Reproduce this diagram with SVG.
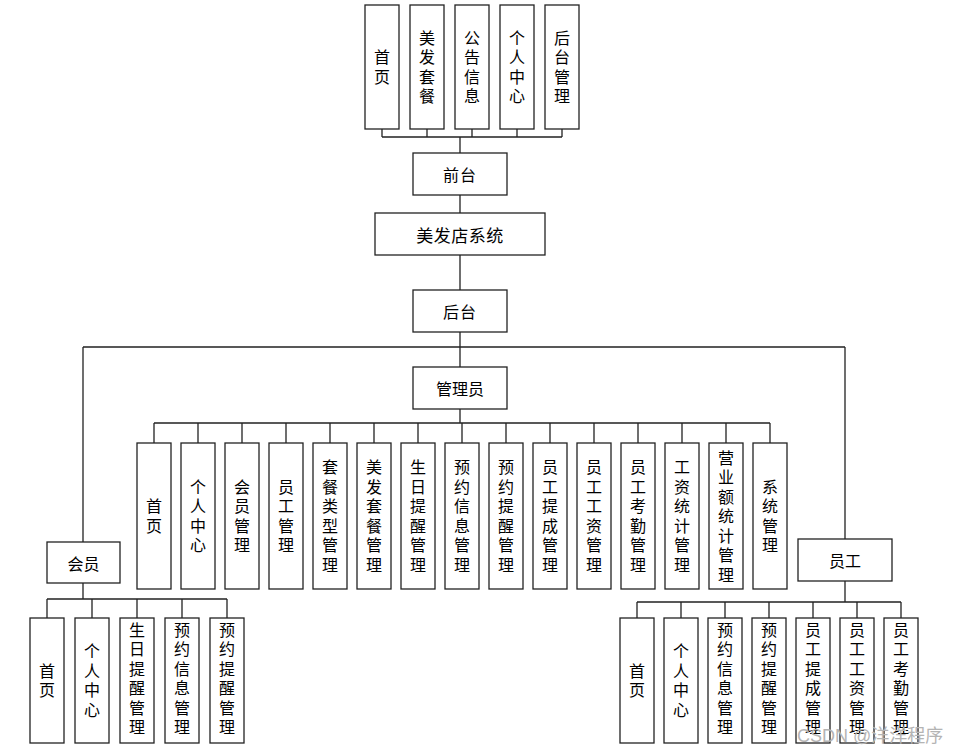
<svg xmlns="http://www.w3.org/2000/svg" width="953" height="754" viewBox="0 0 953 754">
<style>
.box{fill:#fff;stroke:#222;stroke-width:1.3}
.t{font-family:"Noto Sans CJK SC","Noto Sans",sans-serif;font-size:16px;fill:#000;dominant-baseline:central;text-anchor:middle}
.v{font-family:"Noto Sans CJK SC","Noto Sans",sans-serif;font-size:16px;fill:#000;writing-mode:vertical-rl;text-anchor:middle;letter-spacing:3.5px}
.ln{stroke:#222;stroke-width:1.3;fill:none}
.wm{font-family:"Liberation Sans","Noto Sans CJK SC",sans-serif;font-size:18px;fill:#b4b4b4}
</style>
<rect width="953" height="754" fill="#fff"/>
<g id="connectors">
<path class="ln" d="M382 129V137M427 129V137M472 129V137M517 129V137M562 129V137M382 137H562M460 137V153"/>
<path class="ln" d="M460 195V213M460 255V290M460 332V367M83 347H845M83 347V542M845 347V539"/>
<path class="ln" d="M460 409V423M154 423H770M154 423V443M198 423V443M242 423V443M286 423V443M330 423V443M374 423V443M418 423V443M462 423V443M506 423V443M550 423V443M594 423V443M638 423V443M682 423V443M726 423V443M770 423V443"/>
<path class="ln" d="M83 583V599M47 599H227M47 599V618M92 599V618M137 599V618M182 599V618M227 599V618"/>
<path class="ln" d="M845 581V602M637 602H901M637 602V618M681 602V618M725 602V618M769 602V618M813 602V618M857 602V618M901 602V618"/>
</g>
<g id="top-shouye"><rect class="box" x="365" y="5" width="34" height="124"/><text class="v" x="382" y="68.75">首页</text></g>
<g id="top-meifataocan"><rect class="box" x="410" y="5" width="34" height="124"/><text class="v" x="427" y="68.75">美发套餐</text></g>
<g id="top-gonggao"><rect class="box" x="455" y="5" width="34" height="124"/><text class="v" x="472" y="68.75">公告信息</text></g>
<g id="top-gerenzhongxin"><rect class="box" x="500" y="5" width="34" height="124"/><text class="v" x="517" y="68.75">个人中心</text></g>
<g id="top-houtaiguanli"><rect class="box" x="545" y="5" width="34" height="124"/><text class="v" x="562" y="68.75">后台管理</text></g>
<g id="qiantai"><rect class="box" x="413" y="153" width="94" height="42"/><text class="t" x="460" y="174" letter-spacing="1">前台</text></g>
<g id="system"><rect class="box" x="375" y="213" width="170" height="42"/><text class="t" x="460" y="234" style="font-size:17px" letter-spacing="0.5">美发店系统</text></g>
<g id="houtai"><rect class="box" x="413" y="290" width="94" height="42"/><text class="t" x="460" y="311" letter-spacing="1">后台</text></g>
<g id="admin"><rect class="box" x="413" y="367" width="94" height="42"/><text class="t" x="460" y="388">管理员</text></g>
<g id="a1"><rect class="box" x="137" y="443" width="34" height="146"/><text class="v" x="154" y="517.75">首页</text></g>
<g id="a2"><rect class="box" x="181" y="443" width="34" height="146"/><text class="v" x="198" y="517.75">个人中心</text></g>
<g id="a3"><rect class="box" x="225" y="443" width="34" height="146"/><text class="v" x="242" y="517.75">会员管理</text></g>
<g id="a4"><rect class="box" x="269" y="443" width="34" height="146"/><text class="v" x="286" y="517.75">员工管理</text></g>
<g id="a5"><rect class="box" x="313" y="443" width="34" height="146"/><text class="v" x="330" y="517.75">套餐类型管理</text></g>
<g id="a6"><rect class="box" x="357" y="443" width="34" height="146"/><text class="v" x="374" y="517.75">美发套餐管理</text></g>
<g id="a7"><rect class="box" x="401" y="443" width="34" height="146"/><text class="v" x="418" y="517.75">生日提醒管理</text></g>
<g id="a8"><rect class="box" x="445" y="443" width="34" height="146"/><text class="v" x="462" y="517.75">预约信息管理</text></g>
<g id="a9"><rect class="box" x="489" y="443" width="34" height="146"/><text class="v" x="506" y="517.75">预约提醒管理</text></g>
<g id="a10"><rect class="box" x="533" y="443" width="34" height="146"/><text class="v" x="550" y="517.75">员工提成管理</text></g>
<g id="a11"><rect class="box" x="577" y="443" width="34" height="146"/><text class="v" x="594" y="517.75">员工工资管理</text></g>
<g id="a12"><rect class="box" x="621" y="443" width="34" height="146"/><text class="v" x="638" y="517.75">员工考勤管理</text></g>
<g id="a13"><rect class="box" x="665" y="443" width="34" height="146"/><text class="v" x="682" y="517.75">工资统计管理</text></g>
<g id="a14"><rect class="box" x="709" y="443" width="34" height="146"/><text class="v" x="726" y="517.75">营业额统计管理</text></g>
<g id="a15"><rect class="box" x="753" y="443" width="34" height="146"/><text class="v" x="770" y="517.75">系统管理</text></g>
<g id="member"><rect class="box" x="47" y="542" width="73" height="41"/><text class="t" x="83.5" y="562.5">会员</text></g>
<g id="m1"><rect class="box" x="30" y="618" width="34" height="125"/><text class="v" x="47" y="682.25">首页</text></g>
<g id="m2"><rect class="box" x="75" y="618" width="34" height="125"/><text class="v" x="92" y="682.25">个人中心</text></g>
<g id="m3"><rect class="box" x="120" y="618" width="34" height="125"/><text class="v" x="137" y="680.25">生日提醒管理</text></g>
<g id="m4"><rect class="box" x="165" y="618" width="34" height="125"/><text class="v" x="182" y="680.25">预约信息管理</text></g>
<g id="m5"><rect class="box" x="210" y="618" width="34" height="125"/><text class="v" x="227" y="680.25">预约提醒管理</text></g>
<g id="staff"><rect class="box" x="798" y="539" width="94" height="42"/><text class="t" x="845" y="560">员工</text></g>
<g id="s1"><rect class="box" x="620" y="618" width="34" height="125"/><text class="v" x="637" y="682.25">首页</text></g>
<g id="s2"><rect class="box" x="664" y="618" width="34" height="125"/><text class="v" x="681" y="682.25">个人中心</text></g>
<g id="s3"><rect class="box" x="708" y="618" width="34" height="125"/><text class="v" x="725" y="680.25">预约信息管理</text></g>
<g id="s4"><rect class="box" x="752" y="618" width="34" height="125"/><text class="v" x="769" y="680.25">预约提醒管理</text></g>
<g id="s5"><rect class="box" x="796" y="618" width="34" height="125"/><text class="v" x="813" y="680.25">员工提成管理</text></g>
<g id="s6"><rect class="box" x="840" y="618" width="34" height="125"/><text class="v" x="857" y="680.25">员工工资管理</text></g>
<g id="s7"><rect class="box" x="884" y="618" width="34" height="125"/><text class="v" x="901" y="680.25">员工考勤管理</text></g>
<text class="wm" x="797" y="742">CSDN @洋洋程序</text>
</svg>
